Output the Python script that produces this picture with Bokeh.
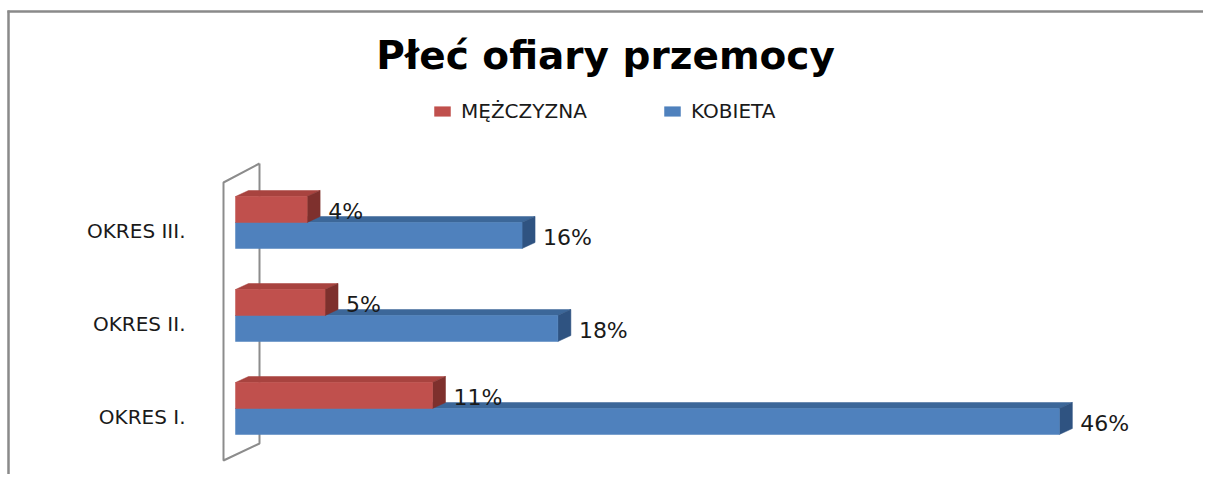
from bokeh.plotting import figure
from bokeh.models import (ColumnDataSource, Range1d, Label, Legend, LegendItem)
from bokeh.core.properties import value
from bokeh.embed import file_html
from bokeh.resources import INLINE

# ---- data ----
categories = ["OKRES I.", "OKRES II.", "OKRES III."]
mezczyzna = [11, 5, 4]
kobieta = [46, 18, 16]
series_names = ["MĘŻCZYZNA", "KOBIETA"]
title_text = "Płeć ofiary przemocy"

# ---- layout / style ----
W, H = 1203, 474
FX0 = 235          # pixel of value 0
S = 17.91          # px per percent
FY0 = 408          # pixel of category 0 centre
U = 93.0           # px per category
x_start = -FX0 / S
x_end = (W - FX0) / S
y_start = -(H - FY0) / U
y_end = FY0 / U

def px(fx):
    return x_start + fx / S

def py(fy):
    return y_end - fy / U

FONT = "DejaVu Sans"
RED = ("#C0504D", "#A8433F", "#7E302D")
BLUE = ("#4F81BD", "#3C6799", "#2F5381")
BAR_H = 26 / U
DX = 13 / S
DY = 6 / U

p = figure(width=W, height=H, output_backend="svg", toolbar_location=None,
           x_range=Range1d(x_start, x_end), y_range=Range1d(y_start, y_end),
           x_axis_location=None, y_axis_location=None, min_border=0,
           outline_line_color=None, background_fill_color="white",
           border_fill_color="white")
p.xgrid.grid_line_color = None
p.ygrid.grid_line_color = None

# outer chart frame (only top and left visible in the crop)
p.line([px(8), px(8)], [py(10), y_start], line_color="#8A8A8A", line_width=2.5)
p.line([px(7), x_end], [py(11), py(11)], line_color="#8A8A8A", line_width=2.5)

# 3D wall at the left
wx_f, wx_b = px(223), px(259)
p.line([wx_b, wx_f, wx_f, wx_b, wx_b],
       [py(163), py(182), py(460), py(443), py(163)],
       line_color="#8C8C8C", line_width=2)

def draw_series(vals, offset_sign, cols):
    idx = list(range(len(vals)))
    if offset_sign > 0:
        y0 = [i for i in idx]
        y1 = [i + BAR_H for i in idx]
    else:
        y0 = [i - BAR_H for i in idx]
        y1 = [i for i in idx]
    top_xs = [[0, v, v + DX, DX] for v in vals]
    top_ys = [[b, b, b + DY, b + DY] for b in y1]
    side_xs = [[v, v + DX, v + DX, v] for v in vals]
    side_ys = [[a, a + DY, b + DY, b] for a, b in zip(y0, y1)]
    p.patches(top_xs, top_ys, fill_color=cols[1], line_color=cols[1], line_width=0.5)
    p.patches(side_xs, side_ys, fill_color=cols[2], line_color=cols[2], line_width=0.5)
    src = ColumnDataSource(dict(left=[0] * len(vals), right=vals, bottom=y0, top=y1))
    r = p.quad(left="left", right="right", bottom="bottom", top="top", source=src,
               fill_color=cols[0], line_color=cols[0], line_width=0.5)
    lab = ColumnDataSource(dict(
        x=[v + DX + 8 / S for v in vals],
        y=[(a + b) / 2 - 2 / U for a, b in zip(y0, y1)],
        t=[f"{v}%" for v in vals]))
    p.text(x="x", y="y", text="t", source=lab, text_font=value(FONT),
           text_font_size="22px", text_color="#1A1A1A",
           text_baseline="middle", text_align="left")
    return r

r_blue = draw_series(kobieta, -1, BLUE)
r_red = draw_series(mezczyzna, +1, RED)

# category labels
cat_src = ColumnDataSource(dict(x=[px(185)] * len(categories),
                                y=[i - 8 / U for i in range(len(categories))],
                                t=categories))
p.text(x="x", y="y", text="t", source=cat_src, text_font=value(FONT),
       text_font_size="20px", text_color="#1A1A1A",
       text_baseline="middle", text_align="right")

# title
p.add_layout(Label(x=605, y=H - 55, x_units="screen", y_units="screen",
                   text=title_text, text_font=FONT, text_font_size="39px",
                   text_font_style="bold", text_align="center",
                   text_baseline="middle", text_color="black"))

# legend
legend = Legend(items=[LegendItem(label=series_names[0], renderers=[r_red]),
                       LegendItem(label=series_names[1], renderers=[r_blue])],
                orientation="horizontal", location=(432, H - 112 - 11),
                border_line_color=None, background_fill_alpha=0,
                padding=0, margin=0, glyph_width=20, glyph_height=12,
                label_standoff=9, spacing=75, label_width=126,
                label_text_font=FONT, label_text_font_size="20px",
                label_text_color="#1A1A1A")
p.add_layout(legend)

open("out.html", "w").write(file_html(p, INLINE))
